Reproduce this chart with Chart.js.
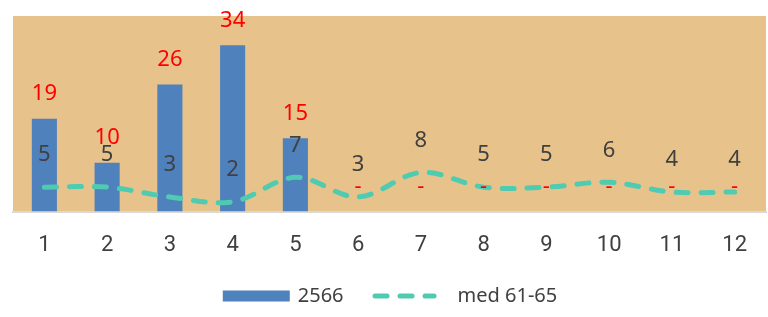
<!DOCTYPE html>
<html>
<head>
<meta charset="utf-8">
<script src="https://cdn.jsdelivr.net/npm/chart.js@4/dist/chart.umd.min.js"></script>
<style>
  html, body { margin: 0; padding: 0; background: #ffffff; overflow: hidden; }
  #wrap { width: 768px; height: 317px; position: relative; }
</style>
</head>
<body>
<div id="wrap"><canvas id="c" width="768" height="317"></canvas></div>
<script>
const categories = ['1','2','3','4','5','6','7','8','9','10','11','12'];
const barName = '2566';
const barValues = [19, 10, 26, 34, 15, 0, 0, 0, 0, 0, 0, 0];
const lineName = 'med 61-65';
const lineValues = [5, 5, 3, 2, 7, 3, 8, 5, 5, 6, 4, 4];

const BAR_COLOR = '#4F81BD';
const LINE_COLOR = '#4ECBB0';
const LINE_DASH = [12, 13];
const textFont = "'Noto Sans', 'Open Sans', sans-serif";
const tickFont = "Roboto, 'Noto Sans', sans-serif";

const bgPlugin = {
  id: 'plotBg',
  beforeDraw(chart) {
    const {ctx, chartArea: a} = chart;
    ctx.save();
    ctx.fillStyle = '#E7C38B';
    ctx.fillRect(a.left, a.top, a.right - a.left, a.bottom - a.top);
    ctx.restore();
  }
};

const labelPlugin = {
  id: 'valueLabels',
  afterDatasetsDraw(chart) {
    const ctx = chart.ctx;
    ctx.save();
    ctx.textAlign = 'center';
    ctx.textBaseline = 'middle';
    const bm = chart.getDatasetMeta(0);
    ctx.fillStyle = '#FF0000';
    ctx.font = "22px " + textFont;
    bm.data.forEach((el, i) => {
      const v = barValues[i];
      ctx.fillText(v === 0 ? '-' : String(v), el.x, el.y - 25);
    });
    const lm = chart.getDatasetMeta(1);
    ctx.fillStyle = '#404040';
    ctx.font = "22px " + textFont;
    lm.data.forEach((el, i) => {
      ctx.fillText(String(lineValues[i]), el.x, el.y - 32);
    });
    ctx.restore();
  }
};

const legendPlugin = {
  id: 'customLegend',
  afterDraw(chart) {
    const ctx = chart.ctx;
    ctx.save();
    ctx.font = "20px " + textFont;
    ctx.textBaseline = 'middle';
    ctx.textAlign = 'left';
    const w1 = ctx.measureText(barName).width;
    const w2 = ctx.measureText(lineName).width;
    const boxW = 67, gapT1 = 8, gapItems = 29, lineW = 64, gapT2 = 21;
    const total = boxW + gapT1 + w1 + gapItems + lineW + gapT2 + w2;
    let x = (chart.width - total) / 2 + 6;
    const y = 296;
    ctx.fillStyle = BAR_COLOR;
    ctx.fillRect(x, y - 5.5, boxW, 11);
    x += boxW + gapT1;
    ctx.fillStyle = '#404040';
    ctx.fillText(barName, x, y);
    x += w1 + gapItems;
    ctx.strokeStyle = LINE_COLOR;
    ctx.lineWidth = 5;
    ctx.lineCap = 'round';
    ctx.setLineDash(LINE_DASH);
    ctx.beginPath();
    ctx.moveTo(x + 2.5, y);
    ctx.lineTo(x + lineW - 2.5, y);
    ctx.stroke();
    ctx.setLineDash([]);
    x += lineW + gapT2;
    ctx.fillStyle = '#404040';
    ctx.fillText(lineName, x, y);
    ctx.restore();
  }
};

new Chart(document.getElementById('c'), {
  data: {
    labels: categories,
    datasets: [
      {
        type: 'bar',
        label: barName,
        data: barValues,
        backgroundColor: BAR_COLOR,
        borderWidth: 0,
        barPercentage: 0.8,
        categoryPercentage: 0.5,
        order: 2
      },
      {
        type: 'line',
        label: lineName,
        data: lineValues,
        borderColor: LINE_COLOR,
        backgroundColor: LINE_COLOR,
        borderWidth: 5,
        borderDash: LINE_DASH,
        borderCapStyle: 'round',
        tension: 0.35,
        pointRadius: 0,
        pointHoverRadius: 0,
        fill: false,
        order: 1
      }
    ]
  },
  options: {
    responsive: false,
    animation: false,
    events: [],
    layout: { padding: { left: 13, right: -3, top: 16, bottom: 37 } },
    scales: {
      x: {
        offset: true,
        grid: { display: false, drawTicks: false },
        border: { display: true, color: '#D9D9D9', width: 2 },
        ticks: { color: '#404040', font: { family: tickFont, size: 22 }, padding: 21 }
      },
      y: {
        display: false,
        min: 0,
        max: 40
      }
    },
    plugins: {
      legend: { display: false },
      tooltip: { enabled: false }
    }
  },
  plugins: [bgPlugin, labelPlugin, legendPlugin]
});
</script>
</body>
</html>
